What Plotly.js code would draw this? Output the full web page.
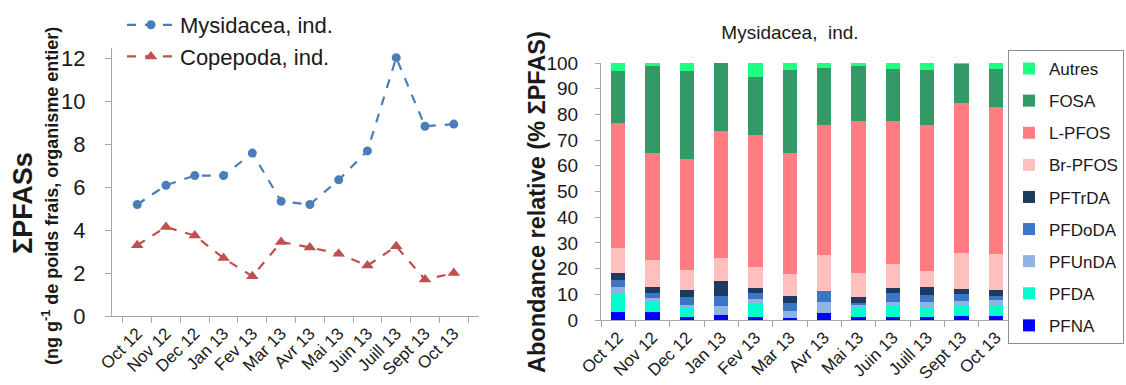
<!DOCTYPE html>
<html><head><meta charset="utf-8">
<script src="https://cdn.plot.ly/plotly-3.0.1.min.js"></script>
<style>html,body{margin:0;padding:0;background:#fff;} #chart{width:1126px;height:385px;}</style>
</head><body><div id="chart"></div>
<script>
const months = ['Oct 12','Nov 12','Dec 12','Jan 13','Fev 13','Mar 13','Avr 13','Mai 13','Juin 13','Juill 13','Sept 13','Oct 13'];

// Left panel: sum of PFASs (ng/g wet weight)
const mysidacea = [5.2, 6.1, 6.55, 6.55, 7.6, 5.35, 5.2, 6.35, 7.7, 12.05, 8.85, 8.95];
const copepoda  = [3.3, 4.15, 3.75, 2.7, 1.85, 3.45, 3.2, 2.9, 2.35, 3.25, 1.7, 2.0];

// Right panel: relative abundance (%) for Mysidacea
const PFNA   = [3.2, 3.0, 1.3, 1.9, 1.0, 0.6, 2.6, 1.3, 1.3, 1.3, 1.7, 1.7];
const PFDA   = [7.2, 3.9, 3.2, 0.0, 5.2, 0.0, 0.0, 3.5, 4.2, 3.6, 3.8, 4.1];
const PFUnDA = [2.6, 1.8, 1.3, 3.6, 1.9, 2.9, 4.3, 0.9, 1.6, 2.2, 2.0, 2.0];
const PFDoDA = [2.6, 1.9, 3.3, 3.9, 2.3, 3.3, 4.5, 0.8, 3.5, 2.6, 2.6, 1.7];
const PFTrDA = [2.6, 2.4, 2.6, 5.9, 1.9, 2.7, 0.0, 2.6, 2.0, 3.0, 1.8, 2.2];
const BrPFOS = [9.7, 10.4, 7.8, 9.0, 8.5, 8.3, 13.9, 9.3, 9.1, 6.4, 14.1, 14.0];
const LPFOS  = [48.7, 41.6, 43.1, 49.1, 51.3, 47.1, 50.7, 59.1, 55.8, 56.7, 58.4, 57.2];
const FOSA   = [20.4, 33.7, 34.4, 26.6, 22.4, 32.5, 22.0, 21.2, 20.3, 21.6, 15.3, 14.8];
const Autres = [3.0, 1.3, 3.0, 0.0, 5.5, 2.6, 2.0, 1.3, 2.2, 2.6, 0.3, 2.3];

const barNames  = ['PFNA','PFDA','PFUnDA','PFDoDA','PFTrDA','Br-PFOS','L-PFOS','FOSA','Autres'];
const barValues = [PFNA, PFDA, PFUnDA, PFDoDA, PFTrDA, BrPFOS, LPFOS, FOSA, Autres];
const barColors = ['#0000FF','#00FFCC','#8EB4E3','#3A76C4','#1F3A60','#FFBFBF','#FF7C80','#339966','#1FFF80'];

const FONT = 'Liberation Sans, Arial, sans-serif';
const TXT = '#1a1a1a';
const AX = '#A6A6A6';

const traces = [
  {x: months, y: mysidacea, name: 'Mysidacea, ind.', type: 'scatter', mode: 'lines+markers',
   line: {color: '#4A7EBB', width: 2.2, dash: 'dash'}, marker: {symbol: 'circle', size: 9, color: '#4A7EBB'},
   xaxis: 'x', yaxis: 'y', legend: 'legend', legendgroup: 'a'},
  {x: months, y: copepoda, name: 'Copepoda, ind.', type: 'scatter', mode: 'lines+markers',
   line: {color: '#C0504D', width: 2.2, dash: 'dash'}, marker: {symbol: 'triangle-up', size: 11, color: '#C0504D'},
   xaxis: 'x', yaxis: 'y', legend: 'legend', legendgroup: 'b'}
];
barNames.forEach((n, i) => {
  traces.push({x: months, y: barValues[i], name: n, type: 'bar', marker: {color: barColors[i], line: {width: 0}},
    xaxis: 'x2', yaxis: 'y2', legend: 'legend2', legendgroup: 'g' + i, legendrank: 100 - i});
});

const layout = {
  width: 1126, height: 385,
  margin: {l: 0, r: 0, t: 0, b: 0},
  paper_bgcolor: '#fff', plot_bgcolor: 'rgba(0,0,0,0)',
  font: {family: FONT, color: TXT},
  barmode: 'stack', bargap: 0.59,
  showlegend: true,
  title: {text: 'Mysidacea,  ind.', x: 790/1126, xanchor: 'center', y: 1 - 32/385, yanchor: 'middle',
          font: {size: 19, family: FONT, color: TXT}},
  xaxis: {domain: [112/1126, 479/1126], anchor: 'y', type: 'category', tickson: 'boundaries',
          ticks: 'outside', ticklen: 6, tickcolor: AX, showline: true, linecolor: AX, linewidth: 1,
          tickangle: -45, tickfont: {size: 17, color: TXT}, showgrid: false, zeroline: false},
  yaxis: {domain: [(385-316)/385, (385-48)/385], anchor: 'x', range: [0, 12.5], dtick: 2, tick0: 0,
          ticks: 'outside', ticklen: 6, tickcolor: AX, showline: true, linecolor: AX, linewidth: 1,
          tickfont: {size: 22, color: TXT}, ticklabelstandoff: 15, showgrid: false, zeroline: false},
  xaxis2: {domain: [601/1126, 1013/1126], anchor: 'y2', type: 'category', tickson: 'boundaries',
          ticks: 'outside', ticklen: 6, tickcolor: AX, showline: true, linecolor: AX, linewidth: 1,
          tickangle: -45, tickfont: {size: 17, color: TXT}, showgrid: false, zeroline: false},
  yaxis2: {domain: [(385-320)/385, (385-63)/385], anchor: 'x2', range: [0, 100], dtick: 10, tick0: 0,
          ticks: 'outside', ticklen: 5, tickcolor: AX, showline: true, linecolor: AX, linewidth: 1,
          tickfont: {size: 19, color: TXT}, ticklabelstandoff: 13, showgrid: false, zeroline: false},
  legend: {x: 122/1126, xanchor: 'left', y: 1 - 4/385, yanchor: 'top', bgcolor: 'rgba(0,0,0,0)',
           font: {size: 22, color: TXT}, traceorder: 'grouped', tracegroupgap: 0, itemwidth: 48},
  legend2: {x: 1 - 2/1126, xanchor: 'right', y: 1 - 50/385, yanchor: 'top', bgcolor: '#fff',
           bordercolor: '#8C8C8C', borderwidth: 1, font: {size: 17, color: TXT},
           traceorder: 'grouped', tracegroupgap: 7, itemwidth: 30},
  annotations: [
    {text: '<b>ΣPFASs</b>', xref: 'paper', yref: 'paper', x: 23/1126, y: 1 - 203/385, textangle: -90,
     showarrow: false, font: {size: 27, color: TXT}, xanchor: 'center', yanchor: 'middle'},
    {text: '<b>(ng g<sup>-1</sup> de poids frais, organisme entier)</b>', xref: 'paper', yref: 'paper',
     x: 51/1126, y: 1 - 196/385, textangle: -90, showarrow: false, font: {size: 18, color: TXT},
     xanchor: 'center', yanchor: 'middle'},
    {text: '<b>Abondance relative (% ΣPFAS)</b>', xref: 'paper', yref: 'paper', x: 537/1126, y: 1 - 202/385,
     textangle: -90, showarrow: false, font: {size: 23.5, color: TXT}, xanchor: 'center', yanchor: 'middle'}
  ]
};

Plotly.newPlot('chart', traces, layout, {displayModeBar: false, staticPlot: true});
</script></body></html>
